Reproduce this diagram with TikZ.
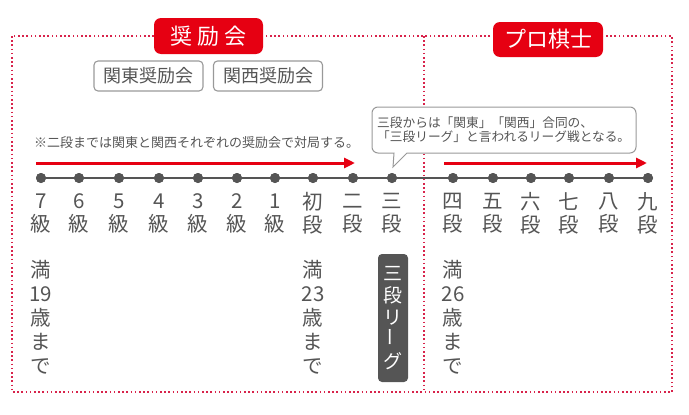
\documentclass[tikz,border=0pt]{standalone}
\usepackage{fontspec}
\setmainfont{Noto Sans CJK JP}
\usetikzlibrary{arrows.meta}
\definecolor{jred}{HTML}{E60012}
\definecolor{dotred}{HTML}{D8234B}
\definecolor{tgray}{HTML}{555555}
\definecolor{bgray}{HTML}{999999}
\tikzset{
  frame/.style={dotred, line width=1.6pt, dash pattern=on 1.6pt off 2.6pt},
  redlabel/.style={fill=jred, text=white, rounded corners=7pt, inner sep=0pt,
    font=\fontsize{22}{24}\selectfont},
  graybox/.style={draw=bgray, line width=1.1pt, rounded corners=4pt, text=tgray,
    inner sep=0pt, minimum width=109pt, minimum height=30pt,
    font=\fontsize{18}{20}\selectfont},
  dotnode/.style={circle, fill=tgray, inner sep=0pt, minimum size=10pt},
  ranklabel/.style={text=tgray, align=center, inner sep=0pt,
    font=\fontsize{20.5}{23}\selectfont},
  agelabel/.style={text=tgray, align=center, inner sep=0pt,
    font=\fontsize{20.5}{24}\selectfont},
  redarrow/.style={jred, line width=3pt, -{Triangle[length=11pt,width=10pt]}},
  timeline/.style={tgray, line width=1.5pt},
  notetext/.style={text=tgray, inner sep=0pt, align=left},
  leaguebox/.style={fill=tgray, text=white, rounded corners=4pt, inner sep=0pt,
    minimum width=30pt, minimum height=128pt, align=center,
    font=\fontsize{19}{22}\selectfont},
  callout/.style={draw=bgray, fill=white, line width=1pt}
}
\begin{document}
\begin{tikzpicture}[x=1pt,y=-1pt]
\useasboundingbox (0,0) rectangle (689,415);
% frames
\coordinate (fa) at (12,36);
\coordinate (fb) at (672,392);
\coordinate (va) at (424,36);
\coordinate (vb) at (424,392);
\draw[frame] (fa) rectangle (fb);
\draw[frame] (va) -- (vb);
% red labels
\node[redlabel, minimum width=109pt, minimum height=36pt] (shoreikai) at (208.5,36) {奨\hspace{5pt}励\hspace{5pt}会};
\node[redlabel, minimum width=110pt, minimum height=35pt] (pro) at (548,39.5) {プロ棋士};
% gray boxes
\node[graybox] (kanto) at (148.5,76) {関東奨励会};
\node[graybox] (kansai) at (268,76) {関西奨励会};
% note
\node[notetext, anchor=west, font=\fontsize{13}{14}\selectfont] (note) at (34,143) {※二段までは関東と関西それぞれの奨励会で対局する。};
% arrows
\coordinate (a1s) at (36,163);
\coordinate (a1e) at (355,163);
\coordinate (a2s) at (444,163);
\coordinate (a2e) at (647,163);
\draw[redarrow] (a1s) -- (a1e);
\draw[redarrow] (a2s) -- (a2e);
% timeline
\foreach \x/\t [count=\i] in {41/7\\級, 79/6\\級, 119/5\\級, 159/4\\級, 198/3\\級, 237/2\\級, 275/1\\級, 313/初\\段, 353/二\\段, 392/三\\段, 453/四\\段, 493/五\\段, 531/六\\段, 569/七\\段, 609/八\\段, 648/九\\段} {
  \node[dotnode] (d\i) at (\x,178) {};
  \node[ranklabel] (r\i) at (\x,213.5) {\t};
}
\draw[timeline] (d1) -- (d16);
\foreach \i in {1,...,16} { \fill[tgray] (d\i) circle (5pt); }
% ages
\node[agelabel] (age1) at (41,317) {満\\19\\歳\\ま\\で};
\node[agelabel] (age2) at (313,317) {満\\23\\歳\\ま\\で};
\node[agelabel] (age3) at (453,317) {満\\26\\歳\\ま\\で};
% league box
\node[leaguebox] (league) at (393,318) {三\\段\\リ\\\rotatebox{90}{ー}\\グ};
% callout
\coordinate (c1) at (407,153);
\coordinate (c2) at (636,153);
\coordinate (c3) at (636,107);
\coordinate (c4) at (372,107);
\coordinate (c5) at (372,153);
\coordinate (c6) at (394,153);
\coordinate (tip) at (393,167);
\draw[callout] (c1) [rounded corners=6pt] -- (c2) -- (c3) -- (c4) -- (c5) [sharp corners] -- (c6) -- (tip) -- cycle;
\node[notetext, anchor=west, font=\fontsize{12.7}{14}\selectfont] (callouttext) at (377,130) {三段からは「関東」「関西」合同の、\\「三段リーグ」と言われるリーグ戦となる。};
\end{tikzpicture}
\end{document}
